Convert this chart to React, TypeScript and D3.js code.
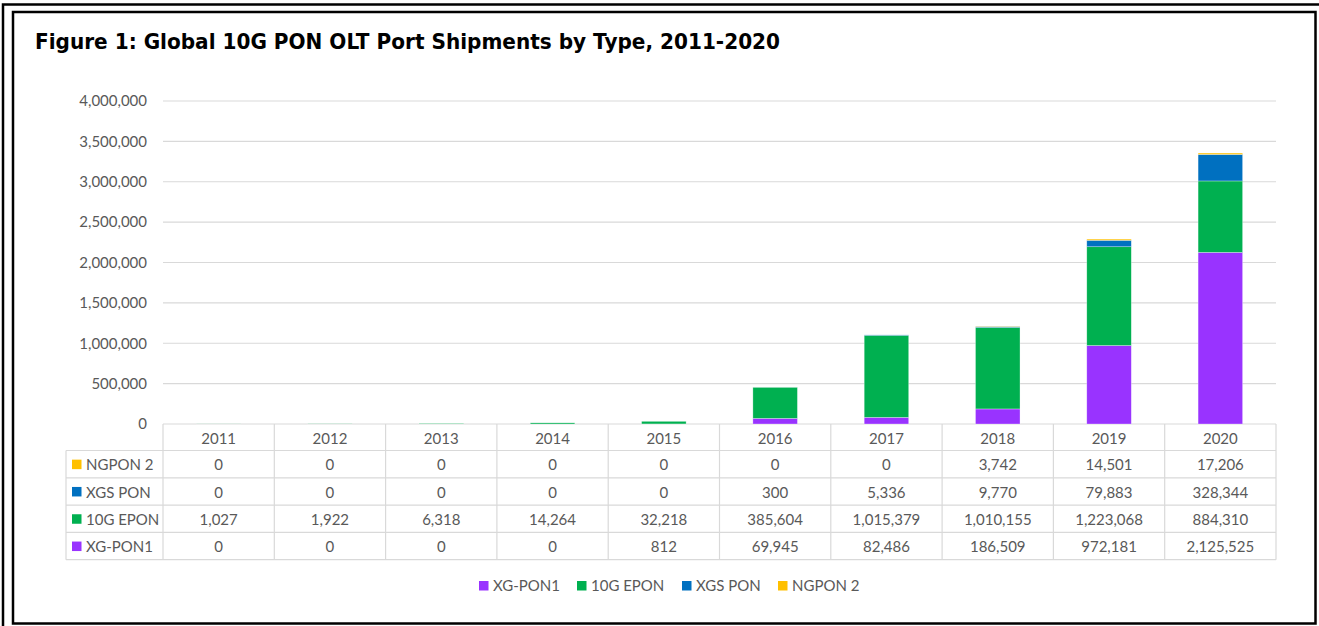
import React from "react";
import * as d3 from "d3";

const years = ["2011", "2012", "2013", "2014", "2015", "2016", "2017", "2018", "2019", "2020"];
const xgPon1 = [0, 0, 0, 0, 812, 69945, 82486, 186509, 972181, 2125525];
const epon10g = [1027, 1922, 6318, 14264, 32218, 385604, 1015379, 1010155, 1223068, 884310];
const xgsPon = [0, 0, 0, 0, 0, 300, 5336, 9770, 79883, 328344];
const ngpon2 = [0, 0, 0, 0, 0, 0, 0, 3742, 14501, 17206];
const yTicks = [0, 500000, 1000000, 1500000, 2000000, 2500000, 3000000, 3500000, 4000000];

const series = [
    {key: "XG-PON1", values: xgPon1, color: "#9933FF"},
    {key: "10G EPON", values: epon10g, color: "#00B050"},
    {key: "XGS PON", values: xgsPon, color: "#0070C0"},
    {key: "NGPON 2", values: ngpon2, color: "#FFC000"},
];

const W = 1319;
const H = 626;
const plot = {left: 163, right: 1276, top: 101, bottom: 424};
const rowH = 27.3;
const headerH = 26.5;
const keyLeft = 66;
const fontMain = "Lato, 'Open Sans', sans-serif";
const fmt = d3.format(",");

export default function App() {
    const x = d3.scaleBand().domain(years).range([plot.left, plot.right]).padding(0);
    const y = d3.scaleLinear().domain([0, 4000000]).range([plot.bottom, plot.top]);

    const rows = years.map((yr, i) => {
        const r: any = {year: yr};
        series.forEach((s) => (r[s.key] = s.values[i]));
        return r;
    });
    const stacked = d3.stack().keys(series.map((s) => s.key))(rows);

    const barW = x.bandwidth() * 0.4;
    const tableTop = plot.bottom;
    const bodyTop = tableTop + headerH;
    const tableRows = [...series].reverse(); // NGPON 2 on top
    const tableBottom = bodyTop + rowH * tableRows.length;

    const legendItems = [
        {s: series[0], x: 479},
        {s: series[1], x: 577},
        {s: series[2], x: 682},
        {s: series[3], x: 778},
    ];

    return (
        <div style={{position: "absolute", left: 0, top: 0}}>
            <svg width={W} height={H} style={{display: "block", background: "#fff"}}>
                {/* frame */}
                <path d={`M3,${H} V4.5 H${W}`} fill="none" stroke="#000" strokeWidth={2.5}/>
                <rect x={13} y={12} width={1315.5 - 13} height={623.5 - 12} fill="none" stroke="#000"
                      strokeWidth={2.5}/>

                <text x={35} y={48.5} fontFamily="'DejaVu Sans', sans-serif" fontWeight="bold" fontSize={21}
                      textLength={745} lengthAdjust="spacingAndGlyphs" fill="#000">
                    Figure 1: Global 10G PON OLT Port Shipments by Type, 2011-2020
                </text>

                {/* grid + y axis labels */}
                {yTicks.map((t) => (
                    <g key={t}>
                        <line x1={plot.left} x2={plot.right} y1={y(t)} y2={y(t)} stroke="#d9d9d9"
                              strokeWidth={1.2}/>
                        <text x={147} y={y(t)} dy="0.35em" textAnchor="end" fontFamily={fontMain}
                              fontSize={15} fill="#595959">{fmt(t)}</text>
                    </g>
                ))}

                {/* stacked bars */}
                {stacked.map((layer, li) => (
                    <g key={layer.key} fill={series[li].color}>
                        {layer.map((d, i) => {
                            const h = y(d[0]) - y(d[1]);
                            if (h <= 0) return null;
                            return (
                                <rect key={i} x={(x(years[i]) as number) + (x.bandwidth() - barW) / 2}
                                      y={y(d[1])} width={barW} height={h} stroke="rgba(255,255,255,0.5)"
                                      strokeWidth={0.6}/>
                            );
                        })}
                    </g>
                ))}

                {/* data table */}
                <g stroke="#d9d9d9" strokeWidth={1.2}>
                    {d3.range(years.length + 1).map((i) => (
                        <line key={i} x1={plot.left + i * x.step()} x2={plot.left + i * x.step()}
                              y1={tableTop} y2={tableBottom}/>
                    ))}
                    <line x1={keyLeft} x2={keyLeft} y1={bodyTop} y2={tableBottom}/>
                    {d3.range(tableRows.length + 1).map((i) => (
                        <line key={i} x1={keyLeft} x2={plot.right} y1={bodyTop + i * rowH}
                              y2={bodyTop + i * rowH}/>
                    ))}
                </g>
                {years.map((yr) => (
                    <text key={yr} x={(x(yr) as number) + x.bandwidth() / 2} y={tableTop + headerH / 2 + 1}
                          dy="0.35em" textAnchor="middle" fontFamily={fontMain} fontSize={15}
                          fill="#595959">{yr}</text>
                ))}
                {tableRows.map((s, ri) => {
                    const cy = bodyTop + ri * rowH + rowH / 2 + 1;
                    return (
                        <g key={s.key}>
                            <rect x={72} y={cy - 5.5} width={9.5} height={9.5} fill={s.color}/>
                            <text x={86} y={cy} dy="0.35em" fontFamily={fontMain} fontSize={15}
                                  fill="#595959">{s.key}</text>
                            {s.values.map((v, i) => (
                                <text key={i} x={(x(years[i]) as number) + x.bandwidth() / 2} y={cy}
                                      dy="0.35em" textAnchor="middle" fontFamily={fontMain} fontSize={15}
                                      fill="#595959">{fmt(v)}</text>
                            ))}
                        </g>
                    );
                })}

                {/* legend */}
                {legendItems.map(({s, x: lx}) => (
                    <g key={s.key}>
                        <rect x={lx} y={581} width={9.5} height={9.5} fill={s.color}/>
                        <text x={lx + 14} y={586} dy="0.35em" fontFamily={fontMain} fontSize={15}
                              fill="#595959">{s.key}</text>
                    </g>
                ))}
            </svg>
        </div>
    );
}
